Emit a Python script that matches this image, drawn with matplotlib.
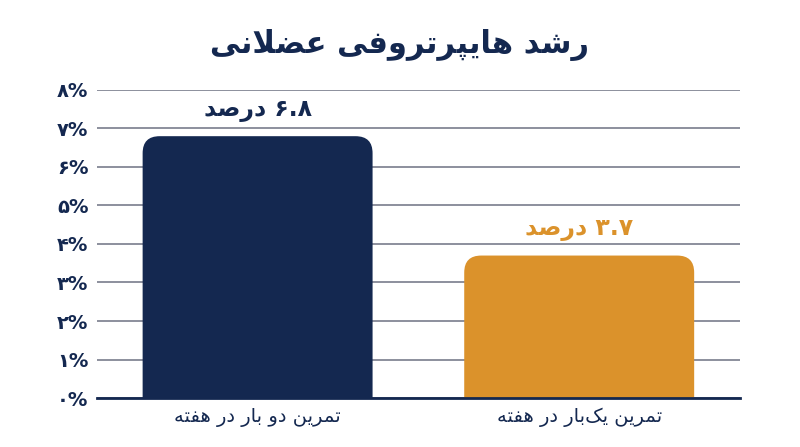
import matplotlib
matplotlib.use("Agg")
import matplotlib.pyplot as plt
from matplotlib.patches import FancyBboxPatch

# data
categories = ["تمرین دو بار در هفته", "تمرین یک‌بار در هفته"]
values = [6.8, 3.7]
value_labels = ["۶.۸ درصد", "۳.۷ درصد"]
colors = ["#142850", "#db922b"]
label_colors = ["#142850", "#db922b"]
yticks = [0, 1, 2, 3, 4, 5, 6, 7, 8]
ytick_labels = ["۰%", "۱%", "۲%", "۳%", "۴%", "۵%", "۶%", "۷%", "۸%"]
title = "رشد هایپرتروفی عضلانی"

NAVY = "#142850"

# minimal arabic/persian shaping (matplotlib has no complex text layout)
# char: (isolated, final, initial, medial)
FORMS = {
    "ا": (0xFE8D, 0xFE8E, None, None),
    "ب": (0xFE8F, 0xFE90, 0xFE91, 0xFE92),
    "پ": (0xFB56, 0xFB57, 0xFB58, 0xFB59),
    "ت": (0xFE95, 0xFE96, 0xFE97, 0xFE98),
    "د": (0xFEA9, 0xFEAA, None, None),
    "ر": (0xFEAD, 0xFEAE, None, None),
    "ش": (0xFEB5, 0xFEB6, 0xFEB7, 0xFEB8),
    "ص": (0xFEB9, 0xFEBA, 0xFEBB, 0xFEBC),
    "ض": (0xFEBD, 0xFEBE, 0xFEBF, 0xFEC0),
    "ع": (0xFEC9, 0xFECA, 0xFECB, 0xFECC),
    "ف": (0xFED1, 0xFED2, 0xFED3, 0xFED4),
    "ک": (0xFB8E, 0xFB8F, 0xFB90, 0xFB91),
    "ل": (0xFEDD, 0xFEDE, 0xFEDF, 0xFEE0),
    "م": (0xFEE1, 0xFEE2, 0xFEE3, 0xFEE4),
    "ن": (0xFEE5, 0xFEE6, 0xFEE7, 0xFEE8),
    "ه": (0xFEE9, 0xFEEA, 0xFEEB, 0xFEEC),
    "و": (0xFEED, 0xFEEE, None, None),
    "ی": (0xFBFC, 0xFBFD, 0xFBFE, 0xFBFF),
}
LAM_ALEF = (0xFEFB, 0xFEFC)


def dual(c):
    return c in FORMS and FORMS[c][2] is not None


def shape(text):
    chars = list(text)
    out = []
    i = 0
    while i < len(chars):
        c = chars[i]
        prev = chars[i - 1] if i > 0 else ""
        joins_prev = dual(prev) and c in FORMS
        # lam-alef ligature
        if c == "ل" and i + 1 < len(chars) and chars[i + 1] == "ا":
            out.append(chr(LAM_ALEF[1] if joins_prev else LAM_ALEF[0]))
            i += 2
            continue
        if c not in FORMS:
            if c != "\u200c":
                out.append(c)
            i += 1
            continue
        nxt = chars[i + 1] if i + 1 < len(chars) else ""
        joins_next = dual(c) and nxt in FORMS
        iso, fin, ini, med = FORMS[c]
        if joins_prev and joins_next:
            out.append(chr(med))
        elif joins_prev:
            out.append(chr(fin))
        elif joins_next:
            out.append(chr(ini))
        else:
            out.append(chr(iso))
        i += 1
    # visual order: reverse, but keep number runs left-to-right
    rev = out[::-1]
    res = []
    run = []
    for c in rev:
        if c in "۰۱۲۳۴۵۶۷۸۹0123456789.":
            run.append(c)
        else:
            res.extend(run[::-1])
            run = []
            res.append(c)
    res.extend(run[::-1])
    return "".join(res)


plt.rcParams["font.family"] = ["DejaVu Sans"]

fig = plt.figure(figsize=(8, 4.47), dpi=100)
ax = fig.add_axes([0.121, 0.1096, 0.804, 0.6891])

x = list(range(len(categories)))
bars = ax.bar(x, values, width=0.715, color=colors)

# rounded top corners
px_x = 0.804 * 800 / 2.0
px_y = 0.6891 * 447 / 8.0
r_px = 17
rx = r_px / px_x
ry = r_px / px_y
for b in bars:
    b.set_visible(False)
    p = FancyBboxPatch((b.get_x(), -1.0), b.get_width(), b.get_height() + 1.0,
                       boxstyle="round,pad=0,rounding_size=%f" % rx,
                       mutation_aspect=ry / rx,
                       facecolor=b.get_facecolor(), edgecolor="none", zorder=3)
    ax.add_patch(p)

for i, v in enumerate(values):
    ax.text(i, v + 0.68, shape(value_labels[i]), ha="center", va="center",
            fontsize=17, fontweight="bold", color=label_colors[i], zorder=4)

ax.set_xlim(-0.5, 1.5)
ax.set_ylim(0, 8)
ax.set_yticks(yticks)
ax.set_yticklabels(ytick_labels, fontsize=14, fontweight="bold", color=NAVY)
ax.set_xticks(x)
ax.set_xticklabels([shape(c) for c in categories], fontsize=14, color=NAVY)
ax.tick_params(axis="y", length=0, pad=6)
ax.tick_params(axis="x", length=0, pad=7)

ax.grid(axis="y", color="#6e7282", linewidth=1.1, zorder=0)
ax.set_axisbelow(True)
for s in ["top", "right", "left"]:
    ax.spines[s].set_visible(False)
ax.spines["bottom"].set_color(NAVY)
ax.spines["bottom"].set_linewidth(2)
ax.spines["bottom"].set_zorder(5)

fig.text(0.5, 0.9, shape(title), ha="center", va="center",
         fontsize=22, fontweight="bold", color=NAVY)

fig.savefig("out.png", dpi=100, facecolor="white")
